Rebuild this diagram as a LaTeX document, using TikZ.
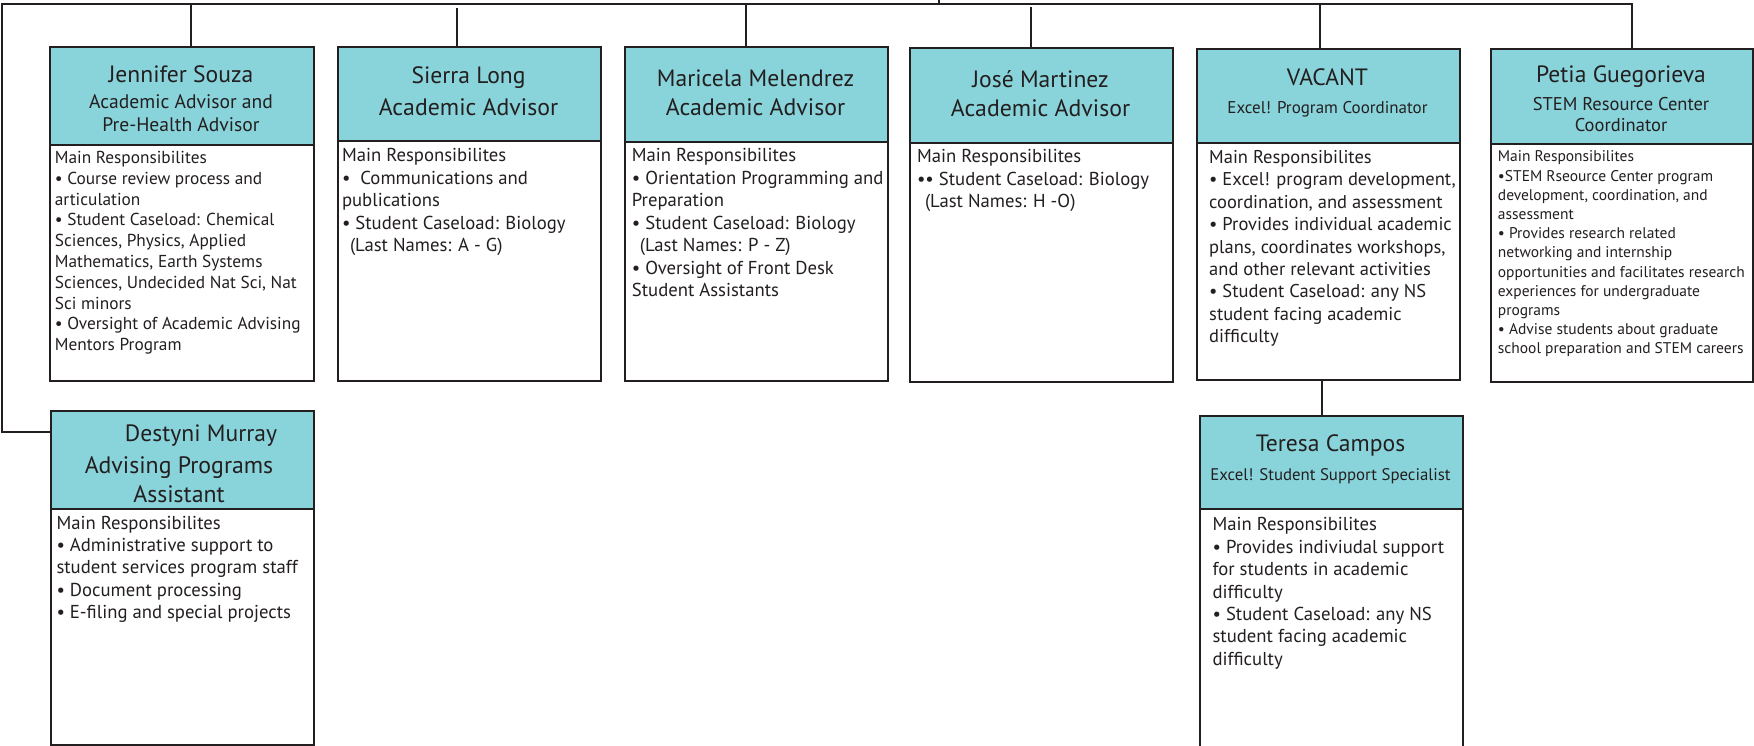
\documentclass[tikz,border=0pt]{standalone}
\usepackage{fontspec}
\setmainfont{PT Sans}
\definecolor{hdrfill}{RGB}{137,212,218}
\definecolor{ink}{RGB}{35,31,32}
\begin{document}
\begin{tikzpicture}[x=1pt,y=-1pt,
  hdr/.style={draw=ink, line width=1.8pt, fill=hdrfill, anchor=north west, inner sep=0pt, minimum width=263pt},
  bodybox/.style={draw=ink, line width=1.8pt, fill=white, anchor=north west, inner sep=0pt, minimum width=263pt},
  wire/.style={draw=ink, line width=1.5pt},
  pname/.style={anchor=base, inner sep=0pt, text=ink, font=\fontsize{23.6}{28}\selectfont},
  ptitle/.style={anchor=north, inner sep=0pt, text=ink, align=center},
  duties/.style={anchor=north west, inner sep=0pt, text=ink, align=left},
  fbody/.style={font=\fontsize{18.7}{22.5}\selectfont},
  fbig/.style={font=\fontsize{23.8}{32}\selectfont}
]
\clip (0,0) rectangle (1754,745);
\fill[white] (0,0) rectangle (1754,745);

% ---------- Jennifer Souza
\node[bodybox, minimum width=264pt, minimum height=236pt] (jb) at (49,144) {};
\node[hdr, minimum width=264pt, minimum height=98pt] (jh) at (49,46) {};
\node[pname] (jn) at (181,82) {Jennifer Souza};
\node[ptitle, font=\fontsize{19.6}{23}\selectfont] (jt) at (181,91.9) {\strut Academic Advisor and\\Pre-Health Advisor};
\node[duties, font=\fontsize{17.3}{20.8}\selectfont] (jd) at (54.7,148.7) {\strut Main Responsibilites\\• Course review process and\\articulation\\• Student Caseload: Chemical\\Sciences, Physics, Applied\\Mathematics, Earth Systems\\Sciences, Undecided Nat Sci, Nat\\Sci minors\\• Oversight of Academic Advising\\Mentors Program};

% ---------- Sierra Long
\node[bodybox, minimum height=240pt] (sb) at (337,140) {};
\node[hdr, minimum height=94pt] (sh) at (337,46) {};
\node[pname] (sn) at (468.5,83) {Sierra Long};
\node[ptitle, fbig] (st) at (468.5,92.6) {\strut Academic Advisor};
\node[duties, fbody] (sd) at (341.8,145.95) {\strut Main Responsibilites\\•~ Communications and\\publications\\• Student Caseload: Biology\\\hspace*{8pt}(Last Names: A - G)};

% ---------- Maricela Melendrez
\node[bodybox, minimum height=239pt] (mb) at (624,141) {};
\node[hdr, minimum height=95pt] (mh) at (624,46) {};
\node[pname] (mn) at (755.5,86) {Maricela Melendrez};
\node[ptitle, fbig] (mt) at (755.5,92.6) {\strut Academic Advisor};
\node[duties, fbody] (md) at (631.7,145.95) {\strut Main Responsibilites\\• Orientation Programming and\\Preparation\\• Student Caseload: Biology\\\hspace*{8pt}(Last Names: P - Z)\\• Oversight of Front Desk\\Student Assistants};

% ---------- José Martinez
\node[bodybox, minimum height=239pt] (zb) at (909,142) {};
\node[hdr, minimum height=95pt] (zh) at (909,47) {};
\node[pname] (zn) at (1040.5,87) {José Martinez};
\node[ptitle, fbig] (zt) at (1040.5,93.6) {\strut Academic Advisor};
\node[duties, fbody] (zd) at (916.8,146.95) {\strut Main Responsibilites\\•• Student Caseload: Biology\\\hspace*{8pt}(Last Names: H -O)};

% ---------- VACANT
\node[bodybox, minimum height=237pt] (vb) at (1196,142) {};
\node[hdr, minimum height=94pt] (vh) at (1196,48) {};
\node[pname] (vn) at (1327.5,85) {VACANT};
\node[ptitle, font=\fontsize{17}{21}\selectfont] (vt) at (1327.5,98.6) {\strut Excel! Program Coordinator};
\node[duties, font=\fontsize{18.5}{22.4}\selectfont] (vd) at (1209,147.6) {\strut Main Responsibilites\\• Excel! program development,\\coordination, and assessment\\• Provides individual academic\\plans, coordinates workshops,\\and other relevant activities\\• Student Caseload: any NS\\student facing academic\\difficulty};

% ---------- Petia Guegorieva
\node[bodybox, minimum width=262pt, minimum height=238pt] (pb) at (1490,143) {};
\node[hdr, minimum width=262pt, minimum height=95pt] (ph) at (1490,48) {};
\node[pname] (pn) at (1621,82.7) {Petia Guegorieva};
\node[ptitle, font=\fontsize{18.5}{21.7}\selectfont] (pt) at (1621,94.8) {\strut STEM Resource Center\\Coordinator};
\node[duties, font=\fontsize{15.5}{19.2}\selectfont] (pd) at (1497.7,148.3) {\strut Main Responsibilites\\•STEM Rseource Center program\\development, coordination, and\\assessment\\• Provides research related\\networking and internship\\opportunities and facilitates research\\experiences for undergraduate\\programs\\• Advise students about graduate\\school preparation and STEM careers};

% ---------- Destyni Murray
\node[bodybox, minimum height=236pt] (db) at (50,508) {};
\node[hdr, minimum height=98pt] (dh) at (50,410) {};
\node[pname] (dn) at (201,441) {Destyni Murray};
\node[ptitle, font=\fontsize{23.8}{29}\selectfont] (dt) at (179,452.7) {\strut Advising Programs\\Assistant};
\node[duties, font=\fontsize{18.7}{22.3}\selectfont] (dd) at (56.3,513.4) {\strut Main Responsibilites\\• Administrative support to\\student services program staff\\• Document processing\\• E-filing and special projects};

% ---------- Teresa Campos
\node[bodybox, minimum height=260pt] (tb) at (1199,508) {};
\node[hdr, minimum height=93pt] (th) at (1199,415) {};
\node[pname] (tn) at (1330.5,451.7) {Teresa Campos};
\node[ptitle, font=\fontsize{16.8}{21}\selectfont] (tt) at (1330.5,465.3) {\strut Excel! Student Support Specialist};
\node[duties, font=\fontsize{18.7}{22.4}\selectfont] (td) at (1212.4,515) {\strut Main Responsibilites\\• Provides indiviudal support\\for students in academic\\difficulty\\• Student Caseload: any NS\\student facing academic\\difficulty};

% ---------- connectors
\coordinate (root) at (939,0);
\coordinate (busL) at (2,4);
\coordinate (busR) at (1632,4);
\coordinate (jv) at ([xshift=142pt]jh.north west);
\coordinate (sv) at ([xshift=120pt]sh.north west);
\coordinate (mv) at ([xshift=122pt]mh.north west);
\coordinate (zv) at ([xshift=122pt]zh.north west);
\coordinate (vv) at ([xshift=124pt]vh.north west);
\coordinate (tv) at ([xshift=126pt]vb.south west);
\coordinate (dv) at ([yshift=-22pt]dh.north west);

\draw[wire] (root) -- (root |- busL);
\draw[wire] (dv) -| (busL) -- (busR) -- (busR |- ph.north);
\draw[wire] (jv) -- (jv |- busL);
\draw[wire] (sv) -- ++(0,-38);
\draw[wire] (mv) -- (mv |- busL);
\draw[wire] (zv) -- ++(0,-40);
\draw[wire] (vv) -- (vv |- busL);
\draw[wire] (tv) -- (tv |- th.north);
\end{tikzpicture}
\end{document}
